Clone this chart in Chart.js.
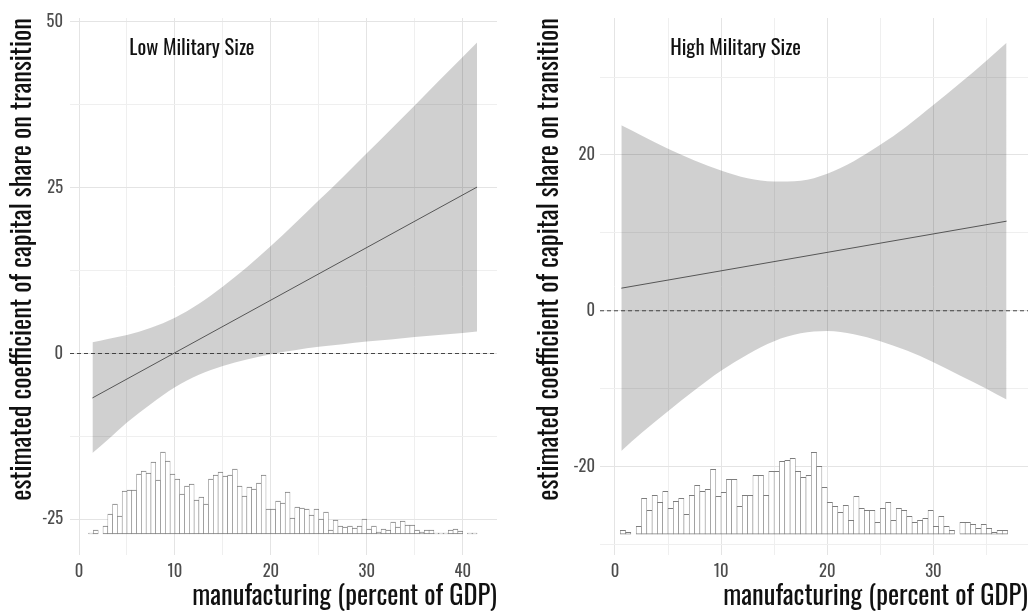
<!DOCTYPE html>
<html>
<head>
<meta charset="utf-8">
<script src="https://cdn.jsdelivr.net/npm/chart.js@4.4.1/dist/chart.umd.min.js"></script>
<style>
  html, body { margin: 0; padding: 0; background: #ffffff; }
  #wrap { position: relative; width: 1030px; height: 613px; overflow: hidden; }
  .panel { position: absolute; top: 0; width: 515px; height: 613px; }
</style>
</head>
<body>
<div id="wrap">
  <div class="panel" style="left:0px"><canvas id="lowPanel"></canvas></div>
  <div class="panel" style="left:515px"><canvas id="highPanel"></canvas></div>
</div>
<script>
// ---------- Low military size ----------
const lowBandX = [1.4, 3, 5, 7.5, 10, 12.5, 15, 17.5, 20, 22.5, 25, 27.5, 30, 32.5, 35, 37.5, 40, 41.5];
const lowUpper = [1.7, 2.2, 2.8, 3.9, 5.4, 7.5, 10.1, 13.0, 16.2, 19.6, 23.1, 26.6, 30.2, 33.8, 37.4, 41.1, 44.7, 46.9];
const lowLower = [-15.0, -13.0, -10.4, -7.6, -5.1, -3.2, -1.9, -0.9, -0.1, 0.5, 1.0, 1.4, 1.8, 2.1, 2.5, 2.8, 3.1, 3.3];
const lowLineX = [1.4, 41.5];
const lowLineY = [-6.7, 25.1];
const lowBinStart = 1.0;
const lowCounts = [
  1, 4, 0, 8, 20, 30, 18, 43, 44, 44,
  60, 63, 61, 72, 54, 82, 73, 60, 55, 40,
  48, 50, 34, 37, 30, 55, 59, 62, 58, 59,
  65, 48, 38, 47, 45, 51, 59, 25, 25, 33,
  31, 42, 16, 27, 26, 25, 19, 25, 15, 22,
  4, 14, 8, 7, 8, 6, 8, 15, 5, 8,
  2, 5, 4, 12, 7, 13, 9, 9, 4, 2,
  4, 4, 1, 1, 1, 4, 5, 3, 0, 1,
  1
];
const lowXTicks = [0, 5, 10, 15, 20, 25, 30, 35, 40];
const lowXLabels = [0, 10, 20, 30, 40];
const lowYTicks = [-25, -12.5, 0, 12.5, 25, 37.5, 50];
const lowYLabels = [-25, 0, 25, 50];

// ---------- High military size ----------
const highBandX = [0.6, 2.5, 5, 7.5, 10, 12.5, 15, 17.5, 20, 22.5, 25, 27.5, 30, 32.5, 35, 36.9];
const highUpper = [23.8, 22.5, 20.8, 19.3, 18.0, 17.0, 16.6, 16.7, 17.6, 19.2, 21.3, 23.7, 26.4, 29.2, 32.1, 34.4];
const highLower = [-18.0, -15.7, -12.9, -10.2, -7.7, -5.6, -3.9, -2.9, -2.6, -3.0, -3.9, -5.1, -6.6, -8.3, -10.0, -11.4];
const highLineX = [0.6, 36.9];
const highLineY = [2.9, 11.5];
const highBinStart = 0.5;
const highCounts = [
  4, 2, 0, 8, 36, 24, 39, 32, 43, 26,
  33, 36, 20, 39, 49, 43, 45, 65, 38, 42,
  55, 55, 28, 39, 39, 59, 59, 39, 63, 63,
  73, 74, 76, 63, 57, 59, 82, 68, 47, 32,
  28, 22, 29, 14, 38, 26, 24, 24, 12, 26,
  32, 14, 26, 24, 18, 12, 14, 16, 24, 8,
  18, 8, 4, 0, 12, 12, 10, 6, 10, 6,
  2, 4, 4
];
const highXTicks = [0, 5, 10, 15, 20, 25, 30, 35];
const highXLabels = [0, 10, 20, 30];
const highYTicks = [-30, -20, -10, 0, 10, 20, 30];
const highYLabels = [-20, 0, 20];

const binWidth = 0.5;
const xTitle = 'manufacturing (percent of GDP)';
const yTitle = 'estimated coefficient of capital share on transition';

const FONT = "'Oswald', 'Liberation Sans', sans-serif";
Chart.defaults.font.family = FONT;

// text label placed inside the plotting area, in data coordinates
const panelLabel = {
  id: 'panelLabel',
  afterDatasetsDraw(chart, args, opts) {
    const { ctx, scales: { x, y } } = chart;
    ctx.save();
    ctx.font = opts.size + 'px ' + FONT;
    ctx.fillStyle = '#111111';
    ctx.textAlign = 'left';
    ctx.textBaseline = 'middle';
    ctx.fillText(opts.text, x.getPixelForValue(opts.x), y.getPixelForValue(opts.y));
    ctx.restore();
  }
};

function pts(xs, ys) { return xs.map((v, i) => ({ x: v, y: ys[i] })); }

function buildPanel(canvasId, p) {
  const bars = p.counts.map((c, i) => ({
    x: p.binStart + (i + 0.5) * binWidth,
    y: [p.histBase, p.histBase + c * p.perCount]
  }));
  const gridColor = (majors) => (ctx) =>
    (ctx.tick && majors.includes(ctx.tick.value)) ? '#e4e4e4' : '#efefef';

  return new Chart(document.getElementById(canvasId), {
    type: 'line',
    data: {
      datasets: [
        { // confidence band, upper edge (filled down to the lower edge)
          data: pts(p.bandX, p.upper), fill: '+1',
          backgroundColor: 'rgba(0,0,0,0.185)', borderWidth: 0, pointRadius: 0,
          cubicInterpolationMode: 'monotone', order: 4
        },
        { // confidence band, lower edge
          data: pts(p.bandX, p.lower), fill: false,
          borderWidth: 0, pointRadius: 0, cubicInterpolationMode: 'monotone', order: 4
        },
        { // distribution of the moderator
          type: 'bar', data: bars,
          backgroundColor: '#ffffff', borderColor: '#7d7d7d',
          borderWidth: { top: 1, bottom: 1, left: 0.6, right: 0.6 },
          borderSkipped: false, barPercentage: 1, categoryPercentage: 1, grouped: false,
          order: 3
        },
        { // marginal effect estimate
          data: pts(p.lineX, p.lineY), borderColor: '#555555', borderWidth: 1,
          pointRadius: 0, fill: false, order: 2
        },
        { // zero reference
          data: [{ x: p.xMin, y: 0 }, { x: p.xMax, y: 0 }], borderColor: '#333333',
          borderWidth: 0.9, borderDash: [4, 3], pointRadius: 0, fill: false, order: 1
        }
      ]
    },
    options: {
      responsive: true,
      maintainAspectRatio: false,
      animation: false,
      events: [],
      layout: { padding: p.padding },
      plugins: {
        legend: { display: false },
        tooltip: { enabled: false },
        panelLabel: p.label
      },
      scales: {
        x: {
          type: 'linear', min: p.xMin, max: p.xMax, offset: false,
          afterBuildTicks: (s) => { s.ticks = p.xTicks.map(v => ({ value: v })); },
          afterFit: (s) => { s.height = 58; },
          ticks: {
            autoSkip: false, maxRotation: 0, padding: 7, color: '#4d4d4d',
            font: { size: 16.5 },
            callback: (v) => p.xLabels.includes(v) ? String(v) : ''
          },
          grid: { color: gridColor(p.xLabels), drawTicks: false, offset: false },
          border: { display: false },
          title: {
            display: true, text: xTitle, align: 'end', color: '#111111',
            font: { size: 26.5 }, padding: { top: 0, bottom: 0 }
          }
        },
        y: {
          type: 'linear', min: p.yMin, max: p.yMax,
          afterBuildTicks: (s) => { s.ticks = p.yTicks.map(v => ({ value: v })); },
          afterFit: (s) => { s.width = p.yAxisWidth; },
          ticks: {
            padding: p.yTickPad, color: '#4d4d4d', font: { size: 16.5 },
            callback: (v) => p.yLabels.includes(v) ? String(v) : ''
          },
          grid: { color: gridColor(p.yLabels), drawTicks: false },
          border: { display: false },
          title: {
            display: true, text: yTitle, align: 'end', color: '#111111',
            font: { size: 26.5 }, padding: { top: 7, bottom: 0 }
          }
        }
      }
    },
    plugins: [panelLabel]
  });
}

buildPanel('lowPanel', {
  bandX: lowBandX, upper: lowUpper, lower: lowLower,
  lineX: lowLineX, lineY: lowLineY,
  counts: lowCounts, binStart: lowBinStart, histBase: -27.22, perCount: 0.1508,
  xTicks: lowXTicks, xLabels: lowXLabels, yTicks: lowYTicks, yLabels: lowYLabels,
  xMin: -0.94, xMax: 43.58, yMin: -30.39, yMax: 50.6,
  padding: { left: 0, top: 18, right: 18, bottom: 0 },
  yAxisWidth: 70, yTickPad: 7,
  label: { text: 'Low Military Size', x: 5.25, y: 46.0, size: 20.5 }
});

buildPanel('highPanel', {
  bandX: highBandX, upper: highUpper, lower: highLower,
  lineX: highLineX, lineY: highLineY,
  counts: highCounts, binStart: highBinStart, histBase: -28.69, perCount: 0.1284,
  xTicks: highXTicks, xLabels: highXLabels, yTicks: highYTicks, yLabels: highYLabels,
  xMin: -1.41, xMax: 38.92, yMin: -31.35, yMax: 37.58,
  padding: { left: 12, top: 18, right: 2, bottom: 0 },
  yAxisWidth: 73, yTickPad: 5,
  label: { text: 'High Military Size', x: 5.2, y: 33.6, size: 20.5 }
});
</script>
</body>
</html>
